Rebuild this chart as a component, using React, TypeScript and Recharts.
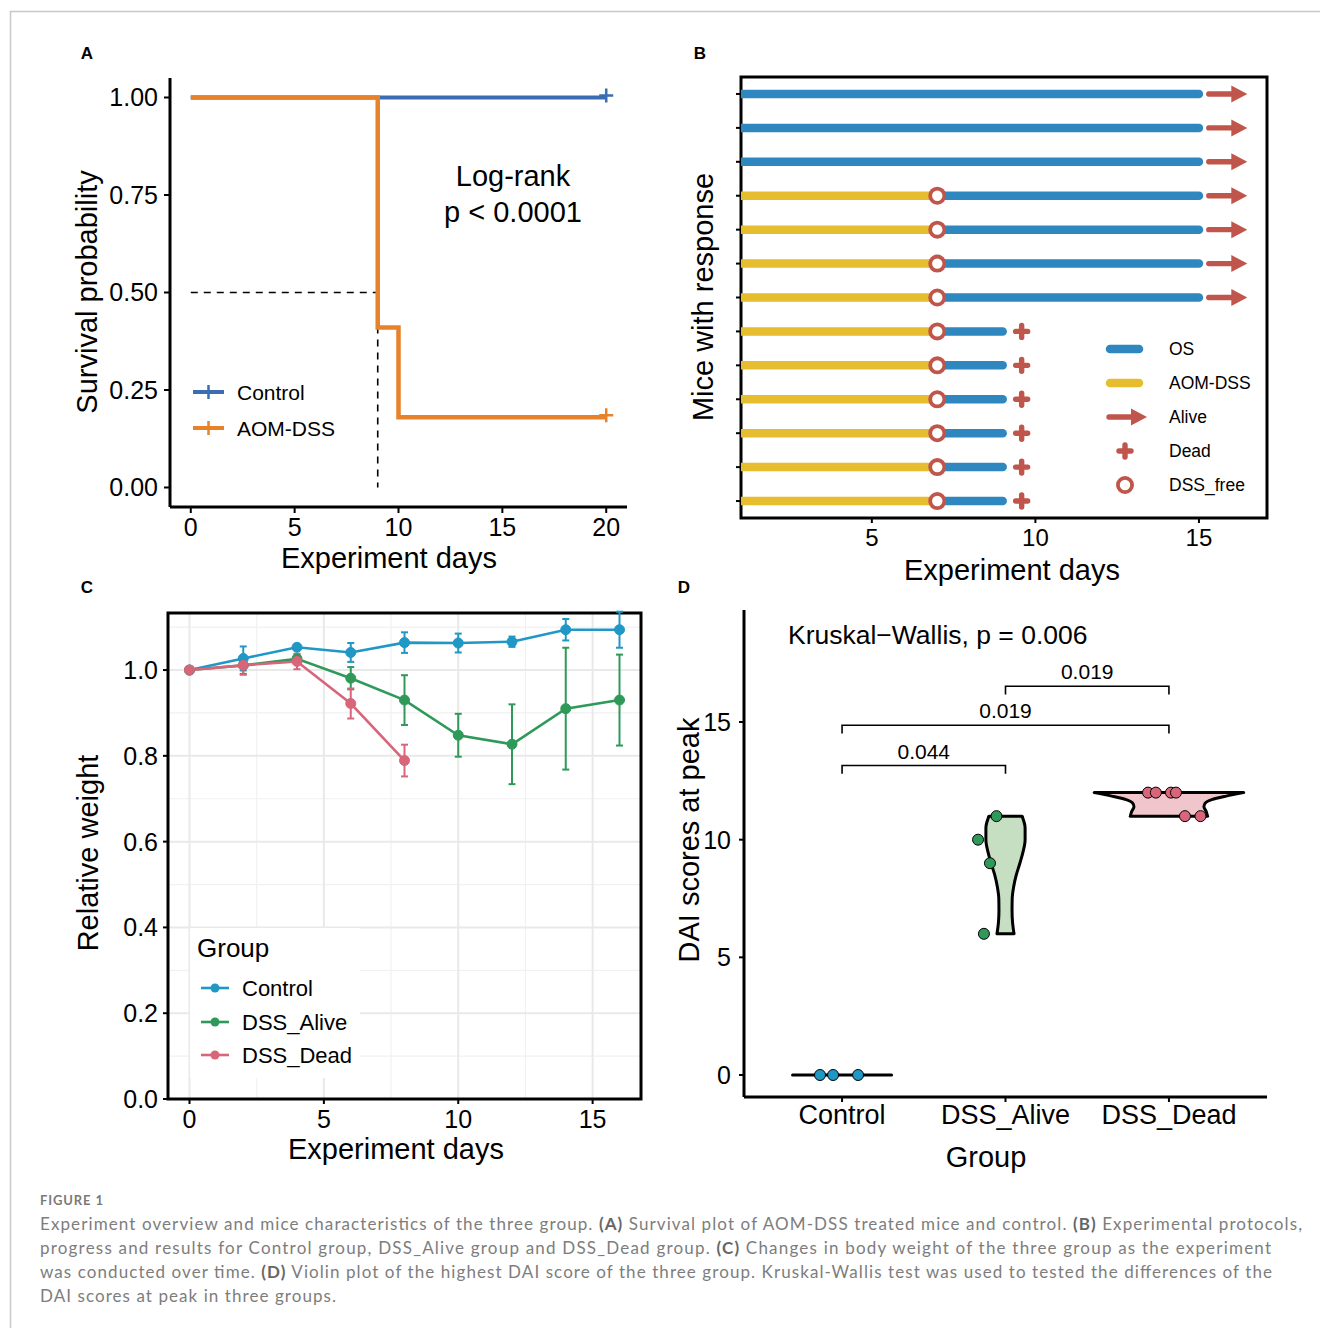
import React from 'react'
import { Area, CartesianGrid, ComposedChart, ErrorBar, Line, ReferenceArea, Scatter, XAxis, YAxis } from 'recharts'

const FONT = '"Liberation Sans", Arial, Helvetica, sans-serif'

// A: Kaplan-Meier survival
const kmDays = [0, 9, 10, 20]
const kmControl = [1, 1, 1, 1]
const kmAomDss = [1, 0.41, 0.18, 0.18]
const medianSurvivalDay = 9
const survivalTicks = [0, 0.25, 0.5, 0.75, 1]
const survivalDayTicks = [0, 5, 10, 15, 20]

// B: swimmer plot, row 1 at the bottom
const mouseRow = [1, 2, 3, 4, 5, 6, 7, 8, 9, 10, 11, 12, 13]
const mouseStatus = ['Dead', 'Dead', 'Dead', 'Dead', 'Dead', 'Dead', 'Alive', 'Alive', 'Alive', 'Alive', 'Alive', 'Alive', 'Alive']
const dssEndDay = [7, 7, 7, 7, 7, 7, 7, 7, 7, 7, null, null, null]
const osEndDay = [9, 9, 9, 9, 9, 9, 15, 15, 15, 15, 15, 15, 15]
const treatStartDay = 1
const deadMarkDay = 9.58
const aliveArrowDays = [15.3, 16.05]
const swimmerDayTicks = [5, 10, 15]

// C: relative weight (mean, se)
const weightDays = [0, 2, 4, 6, 8, 10, 12, 14, 16]
const controlWeight = [1.0, 1.027, 1.053, 1.041, 1.064, 1.063, 1.066, 1.094, 1.094]
const controlWeightSe = [0, 0.028, 0.004, 0.022, 0.024, 0.022, 0.012, 0.025, 0.042]
const aliveWeight = [1.0, 1.011, 1.026, 0.981, 0.93, 0.848, 0.827, 0.91, 0.93]
const aliveWeightSe = [0, 0.02, 0.01, 0.026, 0.058, 0.05, 0.093, 0.142, 0.106]
const deadWeightDays = [0, 2, 4, 6, 8]
const deadWeight = [1.0, 1.011, 1.02, 0.922, 0.789]
const deadWeightSe = [0, 0.022, 0.018, 0.035, 0.037]
const weightTicks = [0, 0.2, 0.4, 0.6, 0.8, 1.0]
const weightMinorTicks = [0.1, 0.3, 0.5, 0.7, 0.9, 1.1]
const weightDayTicks = [0, 5, 10, 15]
const weightDayMinor = [2.5, 7.5, 12.5]

// D: DAI scores at peak
const daiGroups = ['Control', 'DSS_Alive', 'DSS_Dead']
const controlDai = [0, 0, 0]
const controlJitter = [0.865, 0.945, 1.098]
const aliveDai = [11, 10, 9, 6]
const aliveJitter = [1.945, 1.832, 1.905, 1.868]
const deadDai = [12, 12, 12, 12, 11, 11]
const deadJitter = [2.872, 2.92, 3.012, 3.043, 3.098, 3.193]
const controlViolinHalf = 0.303
const aliveViolinDai = [6, 6.5, 7, 7.5, 8, 8.5, 9, 9.5, 10, 10.5, 11]
const aliveViolinHalf = [0.052, 0.043, 0.04, 0.041, 0.05, 0.066, 0.088, 0.108, 0.12, 0.12, 0.101]
const deadViolinDai = [11, 11.2, 11.4, 11.55, 11.7, 11.85, 12]
const deadViolinHalf = [0.236, 0.228, 0.214, 0.222, 0.262, 0.35, 0.457]
const bracketFrom = [1, 1, 2]
const bracketTo = [2, 3, 3]
const bracketLevel = [13.15, 14.86, 16.52]
const bracketDrop = 0.35
const bracketP = ['0.044', '0.019', '0.019']
const daiTicks = [0, 5, 10, 15]

const BLUE_A = '#3a6db2'
const ORANGE_A = '#e8822a'
const BLUE_B = '#2f87c0'
const YELLOW_B = '#e6bd2f'
const RED_B = '#c0554b'
const C_CONTROL = '#1f98c6'
const C_ALIVE = '#2f995a'
const C_DEAD = '#d9657b'

const tickFont = (size: number) => ({ fill: '#000', fontSize: size, fontFamily: FONT })
const axisBlack = { stroke: '#000', strokeWidth: 3 }
const tickBlack = { stroke: '#000', strokeWidth: 2 }

function SurvivalPanel() {
  const control = kmDays.map((d, i) => ({ day: d, s: kmControl[i] }))
  const aom = kmDays.map((d, i) => ({ day: d, s: kmAomDss[i] }))
  const median = [
    { day: kmDays[0], s: 0.5 },
    { day: medianSurvivalDay, s: 0.5 },
    { day: medianSurvivalDay, s: 0 },
  ]
  const censor = (color: string, last: number) => (p: any) =>
    p.index === last ? (
      <path key={`c${p.index}`} d={`M${p.cx - 7},${p.cy - 2}H${p.cx + 7}M${p.cx},${p.cy - 9}V${p.cy + 5}`} stroke={color} strokeWidth={2.5} fill="none" />
    ) : (
      <g key={`c${p.index}`} />
    )
  return (
    <div style={{ position: 'absolute', left: 60, top: 60 }}>
      <ComposedChart width={590} height={520} margin={{ top: 18, right: 23, left: 30, bottom: 33 }}>
        <XAxis type="number" dataKey="day" domain={[-1, 21]} ticks={survivalDayTicks} interval={0} allowDataOverflow height={40}
          axisLine={axisBlack} tickLine={tickBlack} tickSize={6} tickMargin={5} tick={tickFont(25)} />
        <YAxis type="number" domain={[-0.05, 1.05]} ticks={survivalTicks} interval={0} allowDataOverflow width={80}
          tickFormatter={(v: number) => v.toFixed(2)} axisLine={axisBlack} tickLine={tickBlack} tickSize={6} tickMargin={6} tick={tickFont(25)} />
        <Line data={median} dataKey="s" type="linear" stroke="#000" strokeWidth={1.6} strokeDasharray="7 6" dot={false} isAnimationActive={false} />
        <Line data={control} dataKey="s" type="stepAfter" stroke={BLUE_A} strokeWidth={4} dot={censor(BLUE_A, control.length - 1)} isAnimationActive={false} />
        <Line data={aom} dataKey="s" type="stepAfter" stroke={ORANGE_A} strokeWidth={4.5} dot={censor(ORANGE_A, aom.length - 1)} isAnimationActive={false} />
      </ComposedChart>
    </div>
  )
}

function SwimmerPanel() {
  const circles = mouseRow.filter((_, i) => dssEndDay[i] != null).map((row) => ({ day: dssEndDay[row - 1], row }))
  const crosses = mouseRow.filter((_, i) => mouseStatus[i] === 'Dead').map((row) => ({ day: deadMarkDay, row }))
  const arrowHead = (p: any) =>
    p.index === 1 ? (
      <path key={`h${p.index}`} d={`M${p.cx - 2},${p.cy - 8.5}L${p.cx + 14},${p.cy}L${p.cx - 2},${p.cy + 8.5}Z`} fill={RED_B} />
    ) : (
      <g key={`h${p.index}`} />
    )
  return (
    <div style={{ position: 'absolute', left: 680, top: 60 }}>
      <ComposedChart width={610} height={530} margin={{ top: 17, right: 23, left: 21, bottom: 32 }}>
        <XAxis type="number" dataKey="day" domain={[1, 17.08]} ticks={swimmerDayTicks} interval={0} allowDataOverflow height={40}
          axisLine={false} tickLine={tickBlack} tickSize={5} tickMargin={6} tick={tickFont(24)} />
        <YAxis type="number" dataKey="row" domain={[0.5, 13.5]} ticks={mouseRow} interval={0} allowDataOverflow width={40}
          axisLine={false} tickLine={tickBlack} tickSize={5} tickFormatter={() => ''} />
        {mouseRow.map((row, i) =>
          dssEndDay[i] != null ? (
            <Line key={`dss${row}`} data={[{ day: treatStartDay, row }, { day: dssEndDay[i], row }]} dataKey="row"
              stroke={YELLOW_B} strokeWidth={8.5} strokeLinecap="round" dot={false} isAnimationActive={false} />
          ) : null,
        )}
        {mouseRow.map((row, i) => (
          <Line key={`os${row}`} data={[{ day: dssEndDay[i] ?? treatStartDay, row }, { day: osEndDay[i], row }]} dataKey="row"
            stroke={BLUE_B} strokeWidth={8.5} strokeLinecap="round" dot={false} isAnimationActive={false} />
        ))}
        {mouseRow.map((row, i) =>
          mouseStatus[i] === 'Alive' ? (
            <Line key={`al${row}`} data={aliveArrowDays.map((d) => ({ day: d, row }))} dataKey="row"
              stroke={RED_B} strokeWidth={5.4} strokeLinecap="round" dot={arrowHead} isAnimationActive={false} />
          ) : null,
        )}
        <Scatter data={circles} isAnimationActive={false}
          shape={(p: any) => <circle cx={p.cx} cy={p.cy} r={7.1} fill="#fff" stroke={RED_B} strokeWidth={3.8} />} />
        <Scatter data={crosses} isAnimationActive={false}
          shape={(p: any) => (
            <path d={`M${p.cx - 6},${p.cy}H${p.cx + 6}M${p.cx},${p.cy - 6}V${p.cy + 6}`} stroke={RED_B} strokeWidth={5.4} strokeLinecap="round" />
          )} />
        <ReferenceArea x1={1} x2={17.08} y1={0.5} y2={13.5} fill="none" fillOpacity={0} stroke="#000" strokeWidth={3} ifOverflow="visible" />
      </ComposedChart>
    </div>
  )
}

function WeightPanel() {
  const control = weightDays.map((d, i) => ({ day: d, w: controlWeight[i], se: controlWeightSe[i] }))
  const alive = weightDays.map((d, i) => ({ day: d, w: aliveWeight[i], se: aliveWeightSe[i] }))
  const dead = deadWeightDays.map((d, i) => ({ day: d, w: deadWeight[i], se: deadWeightSe[i] }))
  const series: Array<[string, any[], string]> = [
    ['Control', control, C_CONTROL],
    ['DSS_Alive', alive, C_ALIVE],
    ['DSS_Dead', dead, C_DEAD],
  ]
  return (
    <div style={{ position: 'absolute', left: 60, top: 600 }}>
      <ComposedChart width={600} height={580} margin={{ top: 13, right: 19, left: 38, bottom: 41 }}>
        <CartesianGrid horizontalValues={weightMinorTicks} verticalValues={weightDayMinor} stroke="#f1f1f1" strokeWidth={1.2} />
        <CartesianGrid horizontalValues={weightTicks} verticalValues={weightDayTicks} stroke="#e9e9e9" strokeWidth={2} />
        <XAxis type="number" dataKey="day" domain={[-0.8, 16.8]} ticks={weightDayTicks} interval={0} allowDataOverflow height={40}
          axisLine={false} tickLine={tickBlack} tickSize={5} tickMargin={6} tick={tickFont(25)} />
        <YAxis type="number" domain={[0, 1.133]} ticks={weightTicks} interval={0} allowDataOverflow width={70}
          tickFormatter={(v: number) => v.toFixed(1)} axisLine={false} tickLine={tickBlack} tickSize={5} tickMargin={5} tick={tickFont(25)} />
        {series.map(([name, data, color]) => (
          <Line key={name} data={data} dataKey="w" type="linear" stroke={color} strokeWidth={2.6}
            dot={{ r: 5, fill: color, stroke: color, strokeWidth: 1 }} isAnimationActive={false}>
            <ErrorBar dataKey="se" width={3.5} strokeWidth={2} stroke={color} direction="y" />
          </Line>
        ))}
        <ReferenceArea x1={-0.8} x2={16.8} y1={0} y2={1.133} fill="none" fillOpacity={0} stroke="#000" strokeWidth={3} ifOverflow="visible" />
      </ComposedChart>
    </div>
  )
}

function DaiPanel() {
  const vs = Array.from(new Set([...aliveViolinDai, ...deadViolinDai])).sort((a, b) => a - b)
  const violinRows = vs.map((v) => {
    const ai = aliveViolinDai.indexOf(v)
    const di = deadViolinDai.indexOf(v)
    return {
      v,
      alive: ai >= 0 ? [2 - aliveViolinHalf[ai], 2 + aliveViolinHalf[ai]] : [null, null],
      dead: di >= 0 ? [3 - deadViolinHalf[di], 3 + deadViolinHalf[di]] : [null, null],
    }
  })
  const caps = [
    { c: 1, v: 0, h: controlViolinHalf },
    { c: 2, v: aliveViolinDai[0], h: aliveViolinHalf[0] },
    { c: 2, v: aliveViolinDai[aliveViolinDai.length - 1], h: aliveViolinHalf[aliveViolinHalf.length - 1] },
    { c: 3, v: deadViolinDai[0], h: deadViolinHalf[0] },
    { c: 3, v: deadViolinDai[deadViolinDai.length - 1], h: deadViolinHalf[deadViolinHalf.length - 1] },
  ]
  const points: Array<[string, any[], string]> = [
    ['Control', controlDai.map((v, i) => ({ x: controlJitter[i], v })), C_CONTROL],
    ['DSS_Alive', aliveDai.map((v, i) => ({ x: aliveJitter[i], v })), C_ALIVE],
    ['DSS_Dead', deadDai.map((v, i) => ({ x: deadJitter[i], v })), C_DEAD],
  ]
  const labels = bracketP.map((p, i) => ({ x: (bracketFrom[i] + bracketTo[i]) / 2, v: bracketLevel[i], p }))
  return (
    <div style={{ position: 'absolute', left: 670, top: 590 }}>
      <ComposedChart layout="vertical" width={620} height={560} data={violinRows} margin={{ top: 20, right: 23, left: 24, bottom: 13 }}>
        <XAxis type="number" dataKey="x" domain={[0.4, 3.6]} ticks={[1, 2, 3]} interval={0} allowDataOverflow height={40}
          tickFormatter={(t: number) => daiGroups[t - 1]} axisLine={axisBlack} tickLine={tickBlack} tickSize={5} tickMargin={3} tick={tickFont(27)} />
        <YAxis type="number" dataKey="v" domain={[-0.935, 19.76]} ticks={daiTicks} interval={0} allowDataOverflow width={50} reversed
          axisLine={axisBlack} tickLine={tickBlack} tickSize={5} tickMargin={8} tick={tickFont(25)} />
        <Area dataKey="alive" type="monotone" fill="#c6dfc3" fillOpacity={1} stroke="#000" strokeWidth={3} connectNulls={false} dot={false} activeDot={false} isAnimationActive={false} />
        <Area dataKey="dead" type="monotone" fill="#f1c5cc" fillOpacity={1} stroke="#000" strokeWidth={3} connectNulls={false} dot={false} activeDot={false} isAnimationActive={false} />
        {caps.map((c, i) => (
          <Line key={`cap${i}`} data={[{ x: c.c - c.h, v: c.v }, { x: c.c + c.h, v: c.v }]} dataKey="x" type="linear"
            stroke="#000" strokeWidth={3} strokeLinecap="round" dot={false} isAnimationActive={false} />
        ))}
        {bracketP.map((_, i) => (
          <Line key={`br${i}`} type="linear" dataKey="x" stroke="#000" strokeWidth={1.6} dot={false} isAnimationActive={false}
            data={[
              { x: bracketFrom[i], v: bracketLevel[i] - bracketDrop },
              { x: bracketFrom[i], v: bracketLevel[i] },
              { x: bracketTo[i], v: bracketLevel[i] },
              { x: bracketTo[i], v: bracketLevel[i] - bracketDrop },
            ]} />
        ))}
        {points.map(([name, data, color]) => (
          <Scatter key={name} data={data} isAnimationActive={false}
            shape={(p: any) => <circle cx={p.cx} cy={p.cy} r={5.5} fill={color} stroke="#000" strokeWidth={1} />} />
        ))}
        <Scatter data={labels} isAnimationActive={false}
          shape={(p: any) => (
            <text x={p.cx} y={p.cy - 7} textAnchor="middle" fontSize={21} fontFamily={FONT} fill="#000">{p.payload.p}</text>
          )} />
      </ComposedChart>
    </div>
  )
}

function T({ x, y, size, children, rotate = false, anchor = 'middle', weight = 400 }: any) {
  return (
    <text x={x} y={y} fontSize={size} fontFamily={FONT} fontWeight={weight} textAnchor={anchor} dominantBaseline="central"
      transform={rotate ? `rotate(-90 ${x} ${y})` : undefined} fill="#000">
      {children}
    </text>
  )
}

const captionLines: Array<{ parts: Array<[string, boolean]>; width: number }> = [
  { parts: [['Experiment overview and mice characteristics of the three group. ', false], ['(A)', true], [' Survival plot of AOM-DSS treated mice and control. ', false], ['(B)', true], [' Experimental protocols,', false]], width: 1262 },
  { parts: [['progress and results for Control group, DSS_Alive group and DSS_Dead group. ', false], ['(C)', true], [' Changes in body weight of the three group as the experiment', false]], width: 1231 },
  { parts: [['was conducted over time. ', false], ['(D)', true], [' Violin plot of the highest DAI score of the three group. Kruskal-Wallis test was used to tested the differences of the', false]], width: 1232 },
  { parts: [['DAI scores at peak in three groups.', false]], width: 296 },
]

function Overlay() {
  const legendB = (y: number, label: string) => (
    <text x={1169} y={y} fontSize={17.5} fontFamily={FONT} dominantBaseline="central" fill="#000">{label}</text>
  )
  return (
    <svg width={1320} height={1328} style={{ position: 'absolute', left: 0, top: 0, pointerEvents: 'none' }}>
      <path d="M10.5,1328V11.5H1320" stroke="#c8c8c8" strokeWidth={1.5} fill="none" />
      <T x={87} y={53} size={17} weight={700}>A</T>
      <T x={700} y={53} size={17} weight={700}>B</T>
      <T x={87} y={587} size={17} weight={700}>C</T>
      <T x={684} y={587} size={17} weight={700}>D</T>

      {/* A */}
      <T x={87} y={292} size={29} rotate>Survival probability</T>
      <T x={389} y={558} size={29}>Experiment days</T>
      <T x={513} y={176} size={29}>Log-rank</T>
      <T x={513} y={212} size={29}>p &lt; 0.0001</T>
      <line x1={193} x2={224} y1={392} y2={392} stroke={BLUE_A} strokeWidth={4} />
      <line x1={208.5} x2={208.5} y1={385} y2={399} stroke={BLUE_A} strokeWidth={2.5} />
      <line x1={193} x2={224} y1={428} y2={428} stroke={ORANGE_A} strokeWidth={4} />
      <line x1={208.5} x2={208.5} y1={421} y2={435} stroke={ORANGE_A} strokeWidth={2.5} />
      <T x={237} y={392} size={21} anchor="start">Control</T>
      <T x={237} y={428} size={21} anchor="start">AOM-DSS</T>

      {/* B */}
      <T x={703} y={297} size={29} rotate>Mice with response</T>
      <T x={1012} y={570} size={29}>Experiment days</T>
      <line x1={1110} x2={1139} y1={349} y2={349} stroke={BLUE_B} strokeWidth={8.5} strokeLinecap="round" />
      <line x1={1110} x2={1139} y1={383} y2={383} stroke={YELLOW_B} strokeWidth={8.5} strokeLinecap="round" />
      <line x1={1109} x2={1132} y1={417} y2={417} stroke={RED_B} strokeWidth={5.4} strokeLinecap="round" />
      <path d="M1131,408.5L1147,417L1131,425.5Z" fill={RED_B} />
      <path d="M1119,451H1131M1125,445V457" stroke={RED_B} strokeWidth={5.4} strokeLinecap="round" />
      <circle cx={1125} cy={485} r={7.1} fill="#fff" stroke={RED_B} strokeWidth={3.8} />
      {legendB(349, 'OS')}
      {legendB(383, 'AOM-DSS')}
      {legendB(417, 'Alive')}
      {legendB(451, 'Dead')}
      {legendB(485, 'DSS_free')}

      {/* C */}
      <T x={88} y={853} size={29} rotate>Relative weight</T>
      <T x={396} y={1149} size={29}>Experiment days</T>
      <rect x={190} y={928} width={170} height={150} fill="#fff" />
      <T x={197} y={948} size={26} anchor="start">Group</T>
      {[
        ['Control', C_CONTROL, 988],
        ['DSS_Alive', C_ALIVE, 1022],
        ['DSS_Dead', C_DEAD, 1055],
      ].map(([label, color, y]: any) => (
        <g key={label}>
          <line x1={201} x2={229} y1={y} y2={y} stroke={color} strokeWidth={2.6} />
          <circle cx={215} cy={y} r={4.5} fill={color} />
          <T x={242} y={y} size={22} anchor="start">{label}</T>
        </g>
      ))}

      {/* D */}
      <T x={689} y={840} size={29} rotate>DAI scores at peak</T>
      <T x={986} y={1157} size={29}>Group</T>
      <T x={788} y={635} size={26.5} anchor="start">Kruskal−Wallis, p = 0.006</T>

      {/* caption */}
      <text x={40} y={1205} fontSize={13} fontFamily="Lato, 'Open Sans', sans-serif" fontWeight={700} fill="#7a7a7a" textLength={63} lengthAdjust="spacing">FIGURE 1</text>
      {captionLines.map((line, i) => (
        <text key={i} x={40} y={1230 + i * 24} fontSize={17} fontFamily="Lato, 'Open Sans', sans-serif" fill="#7d7d7d"
          textLength={line.width} lengthAdjust="spacing" style={{ whiteSpace: 'pre' }}>
          {line.parts.map(([s, bold], j) => (
            <tspan key={j} fontWeight={bold ? 700 : 400} fill={bold ? '#666' : '#7d7d7d'}>{s}</tspan>
          ))}
        </text>
      ))}
    </svg>
  )
}

export default function App() {
  return (
    <div style={{ position: 'absolute', left: 0, top: 0, width: 1320, height: 1328, background: '#fff', fontFamily: FONT }}>
      <SurvivalPanel />
      <SwimmerPanel />
      <WeightPanel />
      <DaiPanel />
      <Overlay />
    </div>
  )
}
